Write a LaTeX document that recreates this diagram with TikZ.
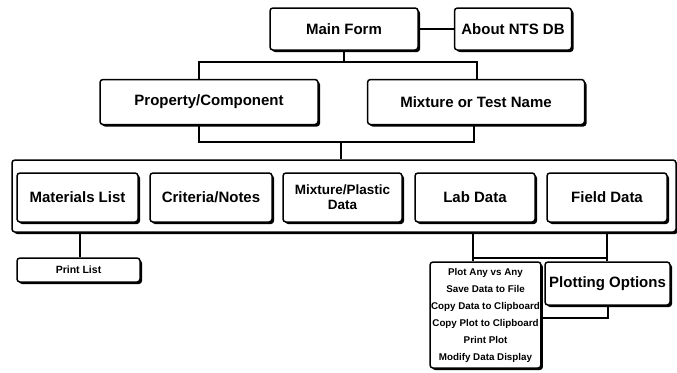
\documentclass[tikz,border=0pt]{standalone}
\usepackage{fontspec}
\setmainfont{Liberation Sans}
\usetikzlibrary{positioning,shadows}

\begin{document}
\begin{tikzpicture}[x=1pt, y=-1pt,
    formbox/.style={draw=black, line width=1.5pt, rounded corners=3pt, fill=white,
        drop shadow={shadow xshift=2pt, shadow yshift=-2pt, fill=black, opacity=1},
        inner sep=2pt, align=center, font=\fontsize{15}{17}\selectfont\bfseries},
    smallbox/.style={formbox, font=\fontsize{10.5}{17}\selectfont\bfseries},
    link/.style={draw=black, line width=1.4pt}]
        \useasboundingbox (0,0) rectangle (677,372);

        % --- Top level ---
        \node[formbox, minimum width=148pt, minimum height=42pt] (main) at (344, 29) {Main Form};
        \node[formbox, minimum width=117pt, minimum height=42pt] (about) at (513, 29) {About NTS DB};
        \node[formbox, minimum width=218pt, minimum height=45pt] (prop) at (209, 102) {Property/Component};
        \node[formbox, minimum width=217pt, minimum height=45pt] (mix) at (476, 102) {Mixture or Test Name};

        % --- Sub forms ---
        \node[formbox, minimum width=664pt, minimum height=72pt] (frame) at (344, 196) {};
        \node[formbox, minimum width=121pt, minimum height=49pt] (matl) at (77.5, 197.5) {Materials List};
        \node[formbox, minimum width=122pt, minimum height=49pt] (crit) at (211, 197.5) {Criteria/Notes};
        \node[formbox, minimum width=119pt, minimum height=49pt,
              font=\fontsize{13.5}{15}\selectfont\bfseries] (plas) at (342.5, 197.5) {Mixture/Plastic\\Data};
        \node[formbox, minimum width=120pt, minimum height=49pt] (lab) at (475, 197.5) {Lab Data};
        \node[formbox, minimum width=120pt, minimum height=49pt] (field) at (607, 197.5) {Field Data};

        % --- Bottom level ---
        \node[smallbox, minimum width=123pt, minimum height=24pt] (print) at (78.5, 270) {Print List};
        \node[smallbox, minimum width=106pt, minimum height=106pt, inner sep=1pt,
              font=\fontsize{9.8}{17}\selectfont\bfseries] (plot) at (485.5, 315)
              {Plot Any vs Any\\Save Data to File\\Copy Data to Clipboard\\Copy Plot to Clipboard\\Print Plot\\Modify Data Display};
        \node[formbox, minimum width=125pt, minimum height=43pt] (opts) at (607.5, 283.5) {Plotting Options};

        % Junction points
        \coordinate (t1) at (344, 62);
        \coordinate (t2) at (199, 62);
        \coordinate (t3) at (477, 62);
        \coordinate (b1) at (199, 142);
        \coordinate (b2) at (474, 142);
        \coordinate (b3) at (341, 142);
        \coordinate (p1) at (473, 258);
        \coordinate (p2) at (607, 258);
        \coordinate (o1) at (608, 318);

        % --- Connectors ---
        \draw[link] (main.east) -- (about.west);
        \draw[link] (main.south) -- (t1);
        \draw[link] (t2 |- prop.north) -- (t2) -- (t3) -- (t3 |- mix.north);
        \draw[link] (b1 |- prop.south) -- (b1) -- (b2) -- (b2 |- mix.south);
        \draw[link] (b3) -- (b3 |- frame.north);
        \draw[link] (80,0 |- frame.south) -- (80,0 |- print.north);
        \draw[link] (p1 |- frame.south) -- (p1 |- plot.north);
        \draw[link] (p2 |- frame.south) -- (p2 |- opts.north);
        \draw[link] (p1) -- (p2);
        \draw[link] (o1 |- opts.south) -- (o1) -- (o1 -| plot.east);
\end{tikzpicture}
\end{document}
